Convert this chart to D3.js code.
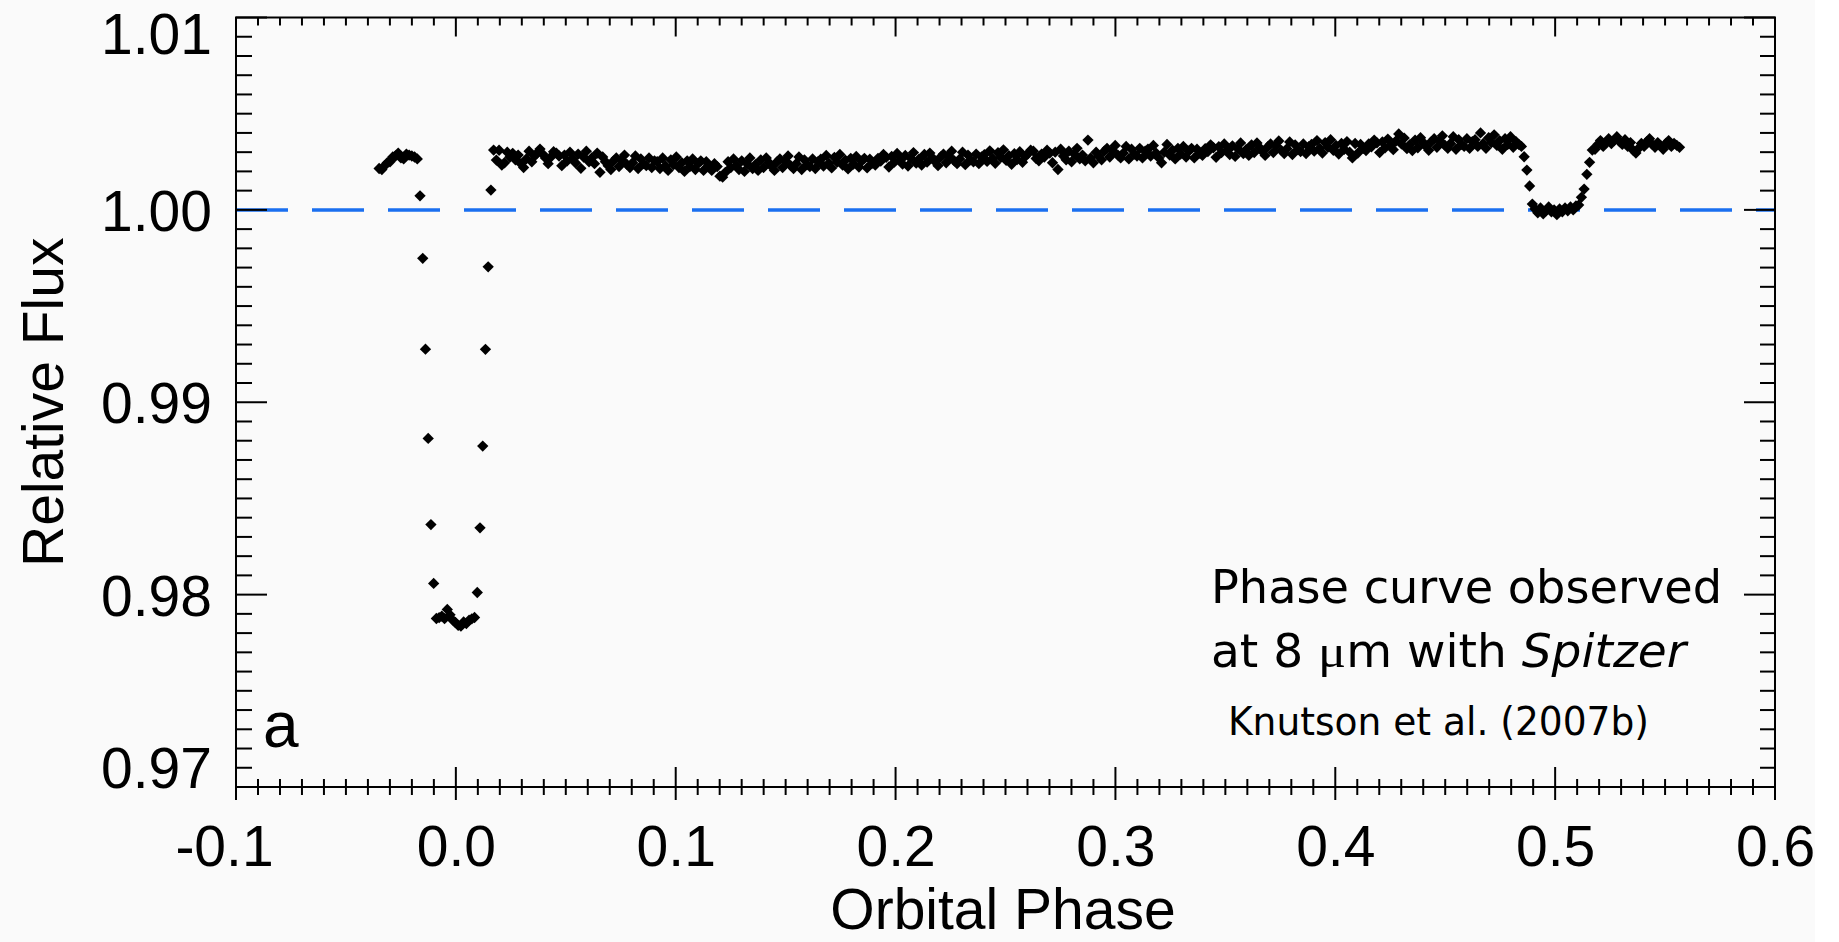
<!DOCTYPE html>
<html>
<head>
<meta charset="utf-8">
<script src="https://cdn.jsdelivr.net/npm/d3@7"></script>
<style>
  html, body { margin: 0; padding: 0; background: #ffffff; }
  svg { display: block; }
  .tick-label { font-family: "Liberation Sans", Arial, Helvetica, sans-serif; font-size: 57px; fill: #000; }
  .note { font-family: "DejaVu Sans Condensed", "DejaVu Sans", sans-serif; font-stretch: condensed; fill: #000; }
</style>
</head>
<body>
<div id="chart"></div>
<script>
// Orbital phase grid of the binned light curve (regular cadence)
const phaseStart = -0.0349;
const phaseStep = 0.00124;

// Relative flux minus 1, in ppm
const preTransit = [2150, 2100, 2300, 2450, 2500, 2750, 2800, 2950, 2700, 2650, 2900, 2850, 2800, 2750, 2650];
const transitIngress = [730, -2520, -7240, -11880, -16360, -19420];
const transitBottom = [-21240, -21200, -21120, -21250, -20770, -21050, -21330, -21450, -21600, -21640, -21420, -21500, -21330, -21260, -21190];
const transitEgress = [-19890, -16530, -12280, -7250, -2960, 1030];
const orbitBand = [
  3110, 2590, 3100, 2330, 2450, 3000, 2750, 2940, 2600, 2850, 2400, 2200, 2650, 3050, 2500, 2800, 2950, 3160, 2900, 2700,
  2400, 2750, 3020, 2950, 2800, 2300, 2850, 2550, 3000, 2650, 2450, 2900, 2160, 2750, 3050, 2500, 2700, 2400, 2950, 1950,
  2750, 2500, 2300, 2100, 2550, 2700, 2250, 2600, 2850, 2350, 2200, 2450, 2800, 2150, 2650, 2400, 2300, 2700, 2200, 2550,
  2500, 2150, 2700, 2300, 2050, 2600, 2350, 2750, 2200, 2450, 2000, 2550, 2250, 2650, 2100, 2400, 2550, 2050, 2500, 2300,
  2050, 2400, 2250, 1750, 1700, 1950, 2500, 2200, 2650, 2300, 2100, 2550, 2000, 2400, 2700, 2150, 2350, 2050, 2600, 2200,
  2700, 2450, 2250, 2050, 2500, 2650, 2200, 2550, 2800, 2300, 2150, 2400, 2750, 2100, 2600, 2350, 2250, 2650, 2150, 2500,
  2630, 2280, 2830, 2430, 2180, 2730, 2480, 2880, 2330, 2580, 2130, 2680, 2380, 2780, 2230, 2530, 2680, 2180, 2630, 2430,
  2330, 2680, 2530, 2880, 2730, 2230, 2780, 2480, 2930, 2580, 2380, 2830, 2280, 2680, 2980, 2430, 2630, 2330, 2880, 2480,
  2950, 2700, 2500, 2300, 2750, 2900, 2450, 2800, 3050, 2550, 2400, 2650, 3000, 2350, 2850, 2600, 2500, 2900, 2400, 2750,
  2870, 2520, 3070, 2670, 2420, 2970, 2720, 3120, 2570, 2820, 2370, 2920, 2620, 3020, 2470, 2770, 2920, 3100, 3050, 2670,
  2550, 2900, 2750, 3100, 2950, 2450, 3000, 2100, 3150, 2800, 2600, 3050, 2500, 2900, 3200, 2650, 2850, 2550, 3630, 2700,
  2450, 3000, 2800, 2600, 3050, 3200, 2750, 3100, 3350, 2850, 2700, 2950, 3300, 2650, 3150, 2900, 2800, 3200, 2700, 3050,
  3150, 2800, 3350, 2950, 2700, 2450, 3000, 3400, 2850, 3100, 2650, 3200, 2900, 3300, 2750, 3050, 3200, 2700, 3150, 2950,
  2830, 3180, 3030, 3380, 3230, 2730, 3280, 2980, 3430, 3080, 2880, 3330, 2780, 3180, 3480, 2930, 3130, 2830, 3380, 2980,
  3480, 3230, 3030, 2830, 3280, 3430, 2980, 3330, 3580, 3080, 2930, 3180, 3530, 2880, 3380, 3130, 3030, 3430, 2930, 3280,
  3400, 3050, 3600, 3200, 2950, 3500, 3250, 3650, 3100, 3350, 2900, 3450, 3150, 3550, 3000, 2700, 3450, 2950, 3400, 3200,
  3080, 3430, 3280, 3630, 3480, 2980, 3530, 3230, 3680, 3330, 3130, 3580, 3950, 3430, 3730, 3180, 3380, 3080, 3630, 3230,
  3750, 3500, 3300, 3100, 3550, 3700, 3250, 3600, 3850, 3350, 3200, 3450, 3800, 3150, 3650, 3400, 3300, 3700, 3200, 3550,
  3650, 3300, 4000, 3450, 3200, 3750, 3500, 3900, 3350, 3600, 3150, 3700, 3400, 3800, 3250, 3550, 3400, 3300
];
const eclipseIngress = [2760, 2070, 1240];
const eclipseBottom = [300, 50, -150, 100, -200, -50, 150, -100, 0, -250, 50, -100, 100, -50, 150, 0, 200, 250];
const eclipseEgress = [650, 1080, 1850, 2470, 3110];
const postEclipse = [3150, 3400, 3600, 3300, 3500, 3700, 3450, 3600, 3800, 3550, 3400, 3650, 3300, 3500, 3100, 2950,
  3200, 3450, 3300, 3550, 3700, 3400, 3250, 3500, 3350, 3150, 3450, 3600, 3300, 3450, 3350, 3250];

const xTickLabels = ["-0.1", "0.0", "0.1", "0.2", "0.3", "0.4", "0.5", "0.6"];
const yTickLabels = ["0.97", "0.98", "0.99", "1.00", "1.01"];

const W = 1839, H = 942;
const margin = { left: 236, right: 64, top: 17.5, bottom: 155 };

const fluxPpm = [].concat(preTransit, transitIngress, transitBottom, transitEgress,
  orbitBand, eclipseIngress, eclipseBottom, eclipseEgress, postEclipse);
const points = fluxPpm.map((ppm, i) => ({ phase: phaseStart + i * phaseStep, flux: 1 + ppm / 1e6 }));

const svg = d3.select("#chart").append("svg")
  .attr("width", W)
  .attr("height", H);

svg.append("rect").attr("width", 1815).attr("height", H).attr("fill", "#fafafa");

const x = d3.scaleLinear().domain([-0.1, 0.6]).range([margin.left, W - margin.right]);
const y = d3.scaleLinear().domain([0.97, 1.01]).range([H - margin.bottom, margin.top]);

const x0 = x.range()[0], x1 = x.range()[1];
const yTop = y.range()[1], yBot = y.range()[0];

// reference level
svg.append("line")
  .attr("x1", x0).attr("x2", x1)
  .attr("y1", y(1.0)).attr("y2", y(1.0))
  .attr("stroke", "#1a6ff0")
  .attr("stroke-width", 3.5)
  .attr("stroke-dasharray", "52,24");

// data points as filled diamonds
const diamond = d3.symbol().type(d3.symbolSquare).size(64);
svg.append("g").selectAll("path")
  .data(points)
  .join("path")
  .attr("d", diamond)
  .attr("transform", d => `translate(${x(d.phase)},${y(d.flux)}) rotate(45)`)
  .attr("fill", "#000");

// frame
svg.append("rect")
  .attr("x", x0).attr("y", yTop)
  .attr("width", x1 - x0).attr("height", yBot - yTop)
  .attr("fill", "none").attr("stroke", "#000").attr("stroke-width", 2);

const isMajor = (v, step) => Math.abs(v / step - Math.round(v / step)) < 1e-6;

// x ticks: bottom ones cross the axis, top ones point inward
const xTicks = x.ticks(70);
const ticks = svg.append("g").attr("stroke", "#000").attr("stroke-width", 2);
ticks.selectAll(".xb").data(xTicks).join("line")
  .attr("x1", d => x(d)).attr("x2", d => x(d))
  .attr("y1", d => yBot - (isMajor(d, 0.1) ? 20 : 8))
  .attr("y2", d => yBot + (isMajor(d, 0.1) ? 13 : 8));
ticks.selectAll(".xt").data(xTicks).join("line")
  .attr("x1", d => x(d)).attr("x2", d => x(d))
  .attr("y1", yTop)
  .attr("y2", d => yTop + (isMajor(d, 0.1) ? 19 : 8));

// y ticks: inward on both sides
const yTicks = y.ticks(40);
ticks.selectAll(".yl").data(yTicks).join("line")
  .attr("x1", x0)
  .attr("x2", d => x0 + (isMajor(d, 0.01) ? 31 : 16))
  .attr("y1", d => y(d)).attr("y2", d => y(d));
ticks.selectAll(".yr").data(yTicks).join("line")
  .attr("x1", x1)
  .attr("x2", d => x1 - (isMajor(d, 0.01) ? 31 : 15))
  .attr("y1", d => y(d)).attr("y2", d => y(d));

// axis labels via d3 axes (lines hidden, drawn above)
const xAxis = svg.append("g")
  .attr("transform", `translate(0,${yBot})`)
  .call(d3.axisBottom(x).tickValues(xTickLabels.map(Number)).tickSize(0)
    .tickFormat((d, i) => xTickLabels[i]));
xAxis.select(".domain").remove();
xAxis.selectAll("text")
  .attr("class", "tick-label")
  .attr("y", 79).attr("dy", null)
  .attr("dx", (d, i) => xTickLabels[i].startsWith("-") ? -12 : 0);
xAxis.attr("font-size", null).attr("font-family", null);

const yAxis = svg.append("g")
  .attr("transform", `translate(${x0},0)`)
  .call(d3.axisLeft(y).tickValues(yTickLabels.map(Number)).tickSize(0)
    .tickFormat((d, i) => yTickLabels[i]));
yAxis.select(".domain").remove();
yAxis.selectAll("text")
  .attr("class", "tick-label")
  .attr("x", -24).attr("dy", null)
  .attr("y", d => d >= 1.01 - 1e-9 ? 35.5 : (d <= 0.97 + 1e-9 ? 0 : 20.5));
yAxis.attr("font-size", null).attr("font-family", null);

// axis titles
svg.append("text")
  .attr("class", "tick-label")
  .attr("x", 1003).attr("y", 929)
  .attr("text-anchor", "middle")
  .text("Orbital Phase");

svg.append("text")
  .attr("class", "tick-label")
  .attr("transform", `translate(63,${(yTop + yBot) / 2}) rotate(-90)`)
  .attr("text-anchor", "middle")
  .text("Relative Flux");

// panel letter
svg.append("text")
  .attr("class", "tick-label")
  .attr("x", 263).attr("y", 747)
  .style("font-size", "64px")
  .text("a");

// annotation
svg.append("text")
  .attr("class", "note")
  .attr("x", 1211).attr("y", 603)
  .attr("font-size", 46)
  .attr("textLength", 511).attr("lengthAdjust", "spacingAndGlyphs")
  .text("Phase curve observed");

const line2 = svg.append("text")
  .attr("class", "note")
  .attr("x", 1211).attr("y", 667)
  .attr("font-size", 46)
  .attr("textLength", 475).attr("lengthAdjust", "spacingAndGlyphs");
line2.append("tspan").text("at 8 ");
line2.append("tspan").style("font-family", "'Liberation Serif', 'DejaVu Serif', serif").text("\u03bc");
line2.append("tspan").text("m with ");
line2.append("tspan").style("font-style", "italic").text("Spitzer");

svg.append("text")
  .attr("class", "note")
  .attr("x", 1228).attr("y", 735)
  .attr("font-size", 39)
  .attr("textLength", 421).attr("lengthAdjust", "spacingAndGlyphs")
  .text("Knutson et al. (2007b)");
</script>
</body>
</html>
